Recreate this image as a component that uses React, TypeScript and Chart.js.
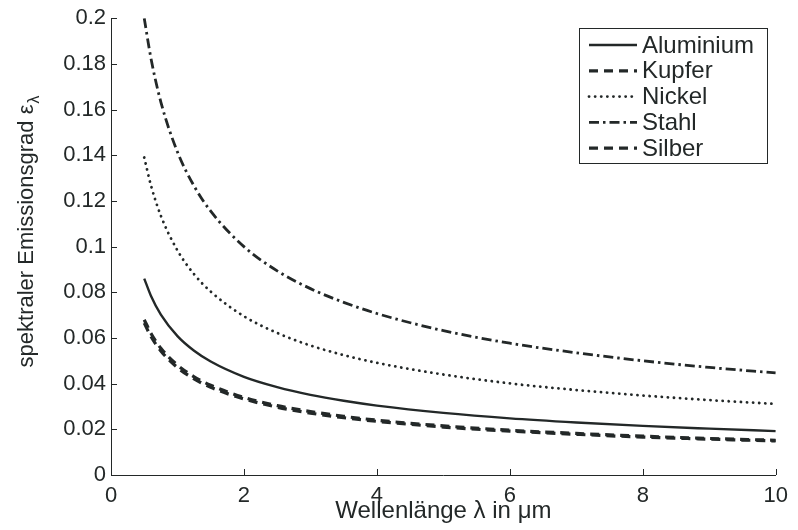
import React, { useEffect, useRef } from "react";
import { Chart, registerables } from "chart.js";

Chart.register(...registerables);

// Wavelength λ in µm (sample points)
const lambda = [0.5, 0.6, 0.75, 1, 1.25, 1.5, 2, 2.5, 3, 3.5, 4, 5, 6, 7, 8, 9, 10];

// Spectral emissivity ε_λ per material
const aluminium = [0.086, 0.0785, 0.0702, 0.0608, 0.0544, 0.0497, 0.043, 0.0385, 0.0351, 0.0325, 0.0304, 0.0272, 0.0248, 0.023, 0.0215, 0.0203, 0.0192];
const kupfer = [0.068, 0.0621, 0.0555, 0.0481, 0.043, 0.0393, 0.034, 0.0304, 0.0278, 0.0257, 0.024, 0.0215, 0.0196, 0.0182, 0.017, 0.016, 0.0152];
const nickel = [0.139, 0.1269, 0.1135, 0.0983, 0.0879, 0.0803, 0.0695, 0.0622, 0.0567, 0.0525, 0.0491, 0.044, 0.0401, 0.0372, 0.0348, 0.0328, 0.0311];
const stahl = [0.2, 0.1826, 0.1633, 0.1414, 0.1265, 0.1155, 0.1, 0.0894, 0.0816, 0.0756, 0.0707, 0.0632, 0.0577, 0.0535, 0.05, 0.0471, 0.0447];
const silber = [0.0665, 0.0607, 0.0543, 0.047, 0.0421, 0.0384, 0.0333, 0.0297, 0.0271, 0.0251, 0.0235, 0.021, 0.0192, 0.0178, 0.0166, 0.0157, 0.0149];

const seriesNames = ["Aluminium", "Kupfer", "Nickel", "Stahl", "Silber"];
const xTicks = [0, 2, 4, 6, 8, 10];
const yTicks = [0, 0.02, 0.04, 0.06, 0.08, 0.1, 0.12, 0.14, 0.16, 0.18, 0.2];

const xTitle = "Wellenlänge λ in μm";
const yTitleMain = "spektraler Emissionsgrad ε";
const yTitleSub = "λ";

const INK = "#232828";
const FONT = "'Liberation Sans', Arial, Helvetica, sans-serif";

const styles = [
  { width: 2.4, dash: [] as number[], cap: "butt" as const },
  { width: 3.2, dash: [9, 6], cap: "butt" as const },
  { width: 2.8, dash: [0.1, 6], cap: "round" as const },
  { width: 2.8, dash: [10, 4, 2.5, 4], cap: "butt" as const },
  { width: 3.2, dash: [9, 6], cap: "butt" as const },
];

const decorPlugin = {
  id: "decor",
  afterDraw(chart: any) {
    const { ctx, chartArea: a, scales } = chart;
    const x = scales.x;
    const y = scales.y;
    ctx.save();
    ctx.strokeStyle = INK;
    ctx.lineWidth = 1;
    ctx.setLineDash([]);
    // inward tick marks
    xTicks.forEach((v) => {
      const px = Math.round(x.getPixelForValue(v)) + 0.5;
      ctx.beginPath();
      ctx.moveTo(px, a.bottom);
      ctx.lineTo(px, a.bottom - 6);
      ctx.stroke();
    });
    yTicks.forEach((v) => {
      const py = Math.round(y.getPixelForValue(v)) + 0.5;
      ctx.beginPath();
      ctx.moveTo(a.left, py);
      ctx.lineTo(a.left + 6, py);
      ctx.stroke();
    });

    // x title
    ctx.fillStyle = INK;
    ctx.font = `24px ${FONT}`;
    ctx.textAlign = "center";
    ctx.textBaseline = "alphabetic";
    ctx.fillText(xTitle, (a.left + a.right) / 2, 518);

    // y title with subscript
    ctx.save();
    ctx.translate(33, 232);
    ctx.rotate(-Math.PI / 2);
    ctx.font = `22px ${FONT}`;
    const wMain = ctx.measureText(yTitleMain).width;
    ctx.font = `16px ${FONT}`;
    const wSub = ctx.measureText(yTitleSub).width;
    const start = -(wMain + wSub) / 2;
    ctx.textAlign = "left";
    ctx.font = `22px ${FONT}`;
    ctx.fillText(yTitleMain, start, 0);
    ctx.font = `16px ${FONT}`;
    ctx.fillText(yTitleSub, start + wMain + 1, 6);
    ctx.restore();

    // legend
    const bx = 579, by = 28, bw = 188, bh = 135;
    ctx.fillStyle = "#fff";
    ctx.fillRect(bx, by, bw, bh);
    ctx.strokeStyle = INK;
    ctx.lineWidth = 1;
    ctx.strokeRect(bx + 0.5, by + 0.5, bw, bh);
    ctx.font = `24px ${FONT}`;
    ctx.textAlign = "left";
    ctx.textBaseline = "middle";
    seriesNames.forEach((name, i) => {
      const ry = by + 17 + i * 25.8;
      ctx.strokeStyle = INK;
      ctx.lineWidth = styles[i].width;
      ctx.lineCap = styles[i].cap;
      ctx.setLineDash(styles[i].dash);
      ctx.beginPath();
      ctx.moveTo(bx + 10, ry);
      ctx.lineTo(bx + 58, ry);
      ctx.stroke();
      ctx.setLineDash([]);
      ctx.lineCap = "butt";
      ctx.fillStyle = INK;
      ctx.fillText(name, bx + 63, ry + 1);
    });
    ctx.restore();
  },
};

export default function App() {
  const ref = useRef<HTMLCanvasElement | null>(null);
  useEffect(() => {
    document.body.style.margin = "0";
    const canvas = ref.current;
    if (!canvas) return;
    const all = [aluminium, kupfer, nickel, stahl, silber];
    const chart = new Chart(canvas, {
      type: "line",
      data: {
        datasets: all.map((vals, i) => ({
          label: seriesNames[i],
          data: lambda.map((l, j) => ({ x: l, y: vals[j] })),
          borderColor: INK,
          borderWidth: styles[i].width,
          borderDash: styles[i].dash,
          borderCapStyle: styles[i].cap,
          pointRadius: 0,
          fill: false,
          cubicInterpolationMode: "monotone" as const,
        })),
      },
      options: {
        animation: false,
        responsive: false,
        maintainAspectRatio: false,
        layout: { padding: { top: 17, right: 18, left: 0, bottom: 0 } },
        plugins: {
          legend: { display: false },
          tooltip: { enabled: false },
          title: { display: false },
        },
        scales: {
          x: {
            type: "linear",
            min: 0,
            max: 10,
            afterBuildTicks: (s: any) => {
              s.ticks = xTicks.map((v) => ({ value: v }));
            },
            afterFit: (s: any) => {
              s.height = 55;
            },
            grid: { display: false, drawTicks: false },
            border: { display: true, color: INK, width: 1 },
            ticks: {
              color: INK,
              font: { size: 22, family: FONT, lineHeight: 1 },
              padding: 10,
              maxRotation: 0,
              autoSkip: false,
              callback: (v: any) => String(v),
            },
          },
          y: {
            type: "linear",
            min: 0,
            max: 0.2,
            afterBuildTicks: (s: any) => {
              s.ticks = yTicks.map((v) => ({ value: v }));
            },
            afterFit: (s: any) => {
              s.width = 111;
            },
            grid: { display: false, drawTicks: false },
            border: { display: true, color: INK, width: 1 },
            ticks: {
              color: INK,
              font: { size: 22, family: FONT },
              padding: 5,
              autoSkip: false,
              callback: (v: any) => String(Number(Number(v).toFixed(2))),
            },
          },
        },
      },
      plugins: [decorPlugin],
    });
    return () => chart.destroy();
  }, []);
  return (
    <div style={{ width: 798, height: 530, position: "relative", background: "#fff" }}>
      <canvas ref={ref} width={798} height={530} style={{ display: "block" }} />
    </div>
  );
}
